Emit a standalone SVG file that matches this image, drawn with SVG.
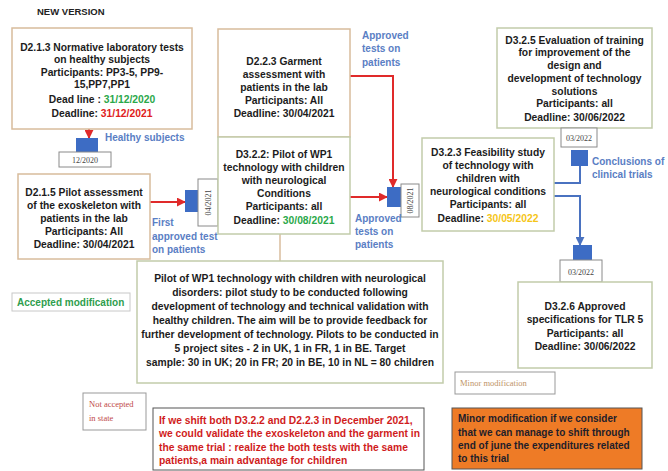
<svg xmlns="http://www.w3.org/2000/svg" width="668" height="471" viewBox="0 0 668 471">
<defs>
<style>
.t{font-family:"Liberation Sans",Arial,sans-serif;font-weight:bold;font-size:10.3px;fill:#1c1c1c;text-anchor:middle}
.lb{font-family:"Liberation Sans",Arial,sans-serif;font-weight:bold;font-size:10px;fill:#5a7ec4}
.d{font-family:"Liberation Serif","Times New Roman",serif;font-size:8px;fill:#444;text-anchor:middle}
.tan{fill:#fff;stroke:#d8bc9c;stroke-width:1.5}
.grn{fill:#fff;stroke:#c2ccaa;stroke-width:1.5}
.db{fill:#fff;stroke:#8a8a8a;stroke-width:1}
.sq{fill:#3d6cc4}
.rc{fill:none;stroke:#e02a2a;stroke-width:2}
.bc{fill:none;stroke:#4a72c0;stroke-width:2}
.g{fill:#2aa84a}.r{fill:#e02020}.y{fill:#f5c518}
</style>
<marker id="ar" viewBox="0 0 10 10" refX="9" refY="5" markerWidth="4.5" markerHeight="4.5" orient="auto-start-reverse"><path d="M0,0L10,5L0,10z" fill="#e02a2a"/></marker>
<marker id="ab" viewBox="0 0 10 10" refX="9" refY="5" markerWidth="4.5" markerHeight="4.5" orient="auto-start-reverse"><path d="M0,0L10,5L0,10z" fill="#4a72c0"/></marker>
</defs>
<rect width="668" height="471" fill="#fff"/>
<text x="37" y="15" style="font-family:'Liberation Sans',Arial,sans-serif;font-weight:bold;font-size:9.5px;fill:#222">NEW VERSION</text>

<g id="connectors">
<line class="rc" x1="89" y1="129" x2="89" y2="138" marker-end="url(#ar)"/>
<line class="rc" x1="150" y1="202" x2="185" y2="202" marker-end="url(#ar)"/>
<polyline class="rc" points="350,76 393,76 393,187" marker-end="url(#ar)"/>
<line class="rc" x1="350" y1="197" x2="387" y2="197" marker-end="url(#ar)"/>
<polyline class="bc" points="554,183 580,183 580,166"/>
<polyline class="bc" points="554,196 580,196 580,245" marker-end="url(#ab)"/>
<line x1="280" y1="234" x2="280" y2="261" stroke="#d8bc9c" stroke-width="1.5"/>
</g>

<g id="d213">
<rect class="tan" x="12" y="28" width="180" height="101"/>
<text class="t" x="102" y="51">D2.1.3 Normative laboratory tests</text>
<text class="t" x="102" y="63">on healthy subjects</text>
<text class="t" x="102" y="76">Participants: PP3-5, PP9-</text>
<text class="t" x="102" y="88">15,PP7,PP1</text>
<text class="t" x="102" y="103">Dead line : <tspan class="g">31/12/2020</tspan></text>
<text class="t" x="102" y="117">Deadline: <tspan class="r">31/12/2021</tspan></text>
</g>

<g id="m1">
<rect class="sq" x="76" y="138" width="22" height="14"/>
<rect class="db" x="59" y="152" width="52" height="15"/>
<text class="d" x="85" y="163">12/2020</text>
<text class="lb" x="105" y="141">Healthy subjects</text>
</g>

<g id="d215">
<rect class="tan" x="18" y="174" width="132" height="85"/>
<text class="t" x="84" y="196">D2.1.5 Pilot assessment</text>
<text class="t" x="84" y="209">of the exoskeleton with</text>
<text class="t" x="84" y="222">patients in the lab</text>
<text class="t" x="84" y="235">Participants: All</text>
<text class="t" x="84" y="248">Deadline: 30/04/2021</text>
</g>

<g id="m2">
<rect class="sq" x="185" y="190" width="14" height="22"/>
<rect class="db" x="198" y="179" width="20" height="47"/>
<text class="d" transform="translate(211 202.5) rotate(-90)">04/2021</text>
<text class="lb" x="152" y="226">First</text>
<text class="lb" x="152" y="240">approved test</text>
<text class="lb" x="152" y="253">on patients</text>
</g>

<g id="d223">
<rect class="tan" x="218" y="29" width="132" height="108"/>
<text class="t" x="284" y="65">D2.2.3 Garment</text>
<text class="t" x="284" y="78">assessment with</text>
<text class="t" x="284" y="91">patients in the lab</text>
<text class="t" x="284" y="104">Participants: All</text>
<text class="t" x="284" y="117">Deadline: 30/04/2021</text>
</g>

<g id="d322">
<rect class="grn" x="218" y="137" width="132" height="97"/>
<text class="t" x="284" y="158">D3.2.2: Pilot of WP1</text>
<text class="t" x="284" y="171">technology with children</text>
<text class="t" x="284" y="184">with neurological</text>
<text class="t" x="284" y="197">Conditions</text>
<text class="t" x="284" y="210">Participants: all</text>
<text class="t" x="284" y="224">Deadline: <tspan class="g">30/08/2021</tspan></text>
</g>

<g id="m3">
<rect class="sq" x="387" y="187" width="14" height="20"/>
<rect class="db" x="401" y="184" width="18" height="33"/>
<text class="d" transform="translate(413 200.5) rotate(-90)">08/2021</text>
<text class="lb" x="362" y="39">Approved</text>
<text class="lb" x="362" y="52">tests on</text>
<text class="lb" x="362" y="66">patients</text>
<text class="lb" x="355" y="222">Approved</text>
<text class="lb" x="355" y="235">tests on</text>
<text class="lb" x="355" y="248">patients</text>
</g>

<g id="d323">
<rect class="grn" x="422" y="138" width="132" height="93"/>
<text class="t" x="488" y="156">D3.2.3 Feasibility study</text>
<text class="t" x="488" y="169">of technology with</text>
<text class="t" x="488" y="182">children with</text>
<text class="t" x="488" y="195">neurological conditions</text>
<text class="t" x="488" y="208">Participants: all</text>
<text class="t" x="488" y="222">Deadline:  <tspan class="y">30/05/2022</tspan></text>
</g>

<g id="d325">
<rect class="grn" x="497" y="28" width="155" height="100"/>
<text class="t" x="574.5" y="44">D3.2.5 Evaluation of training</text>
<text class="t" x="574.5" y="56">for improvement of the</text>
<text class="t" x="574.5" y="69">design and</text>
<text class="t" x="574.5" y="82">development of technology</text>
<text class="t" x="574.5" y="95">solutions</text>
<text class="t" x="574.5" y="107">Participants: all</text>
<text class="t" x="574.5" y="121">Deadline: 30/06/2022</text>
</g>

<g id="m4">
<rect class="db" x="561" y="128" width="36" height="19"/>
<text class="d" x="579" y="141">03/2022</text>
<rect class="sq" x="571" y="150" width="17" height="16"/>
<text class="lb" x="592" y="165">Conclusions of</text>
<text class="lb" x="592" y="178">clinical trials</text>
</g>

<g id="m5">
<rect class="sq" x="573" y="245" width="19" height="15"/>
<rect class="db" x="560" y="260" width="42" height="22"/>
<text class="d" x="581" y="275">03/2022</text>
</g>

<g id="d326">
<rect class="grn" x="518" y="282" width="134" height="86"/>
<text class="t" x="585" y="310">D3.2.6 Approved</text>
<text class="t" x="585" y="323">specifications for TLR 5</text>
<text class="t" x="585" y="337">Participants: all</text>
<text class="t" x="585" y="350">Deadline: 30/06/2022</text>
</g>

<g id="pilot">
<rect class="grn" x="137" y="261" width="306" height="122"/>
<text class="t" x="290" y="282">Pilot of WP1 technology with children with neurological</text>
<text class="t" x="290" y="296">disorders: pilot study to be conducted following</text>
<text class="t" x="290" y="310">development of technology and technical validation with</text>
<text class="t" x="290" y="324">healthy children. The aim will be to provide feedback for</text>
<text class="t" x="290" y="338">further development of technology. Pilots to be conducted in</text>
<text class="t" x="290" y="352">5 project sites - 2 in UK, 1 in FR, 1 in BE. Target</text>
<text class="t" x="290" y="366">sample: 30 in UK; 20 in FR; 20 in BE, 10 in NL = 80 children</text>
</g>

<g id="accepted">
<rect x="12" y="293" width="118" height="18" fill="#fff" stroke="#c8c8c8" stroke-width="1"/>
<text x="17" y="306" style="font-family:'Liberation Sans',Arial,sans-serif;font-weight:bold;font-size:10px;fill:#2e9e4e">Accepted modification</text>
</g>

<g id="notaccepted">
<rect x="83" y="393" width="63" height="37" fill="#fff" stroke="#999" stroke-width="1"/>
<text x="89" y="407" style="font-family:'Liberation Serif','Times New Roman',serif;font-size:8.5px;fill:#c04848">Not accepted</text>
<text x="89" y="421" style="font-family:'Liberation Serif','Times New Roman',serif;font-size:8.5px;fill:#c04848">in state</text>
</g>

<g id="shift">
<rect x="153" y="408" width="271" height="62" fill="#fff" stroke="#555" stroke-width="1"/>
<g style="font-family:'Liberation Sans',Arial,sans-serif;font-weight:bold;font-size:10.3px;fill:#d01c1c">
<text x="159" y="424">If we shift both D3.2.2 and D2.2.3 in December 2021,</text>
<text x="159" y="437">we could validate the exoskeleton and the garment in</text>
<text x="159" y="451">the same trial : realize the both tests with the same</text>
<text x="159" y="464">patients,a main advantage for children</text>
</g>
</g>

<g id="minor">
<rect x="455" y="372" width="100" height="22" fill="#fff" stroke="#999" stroke-width="1"/>
<text x="460" y="386" style="font-family:'Liberation Serif','Times New Roman',serif;font-size:8.5px;fill:#c09468">Minor modification</text>
</g>

<g id="orange">
<rect x="452" y="408" width="190" height="61" fill="#ee7b26" stroke="#555" stroke-width="1"/>
<g style="font-family:'Liberation Sans',Arial,sans-serif;font-weight:bold;font-size:10px;fill:#1e1e2a">
<text x="458" y="422">Minor modification if we consider</text>
<text x="458" y="436">that we can manage to shift through</text>
<text x="458" y="449">end of june the expenditures related</text>
<text x="458" y="462">to this trial</text>
</g>
</g>
</svg>
